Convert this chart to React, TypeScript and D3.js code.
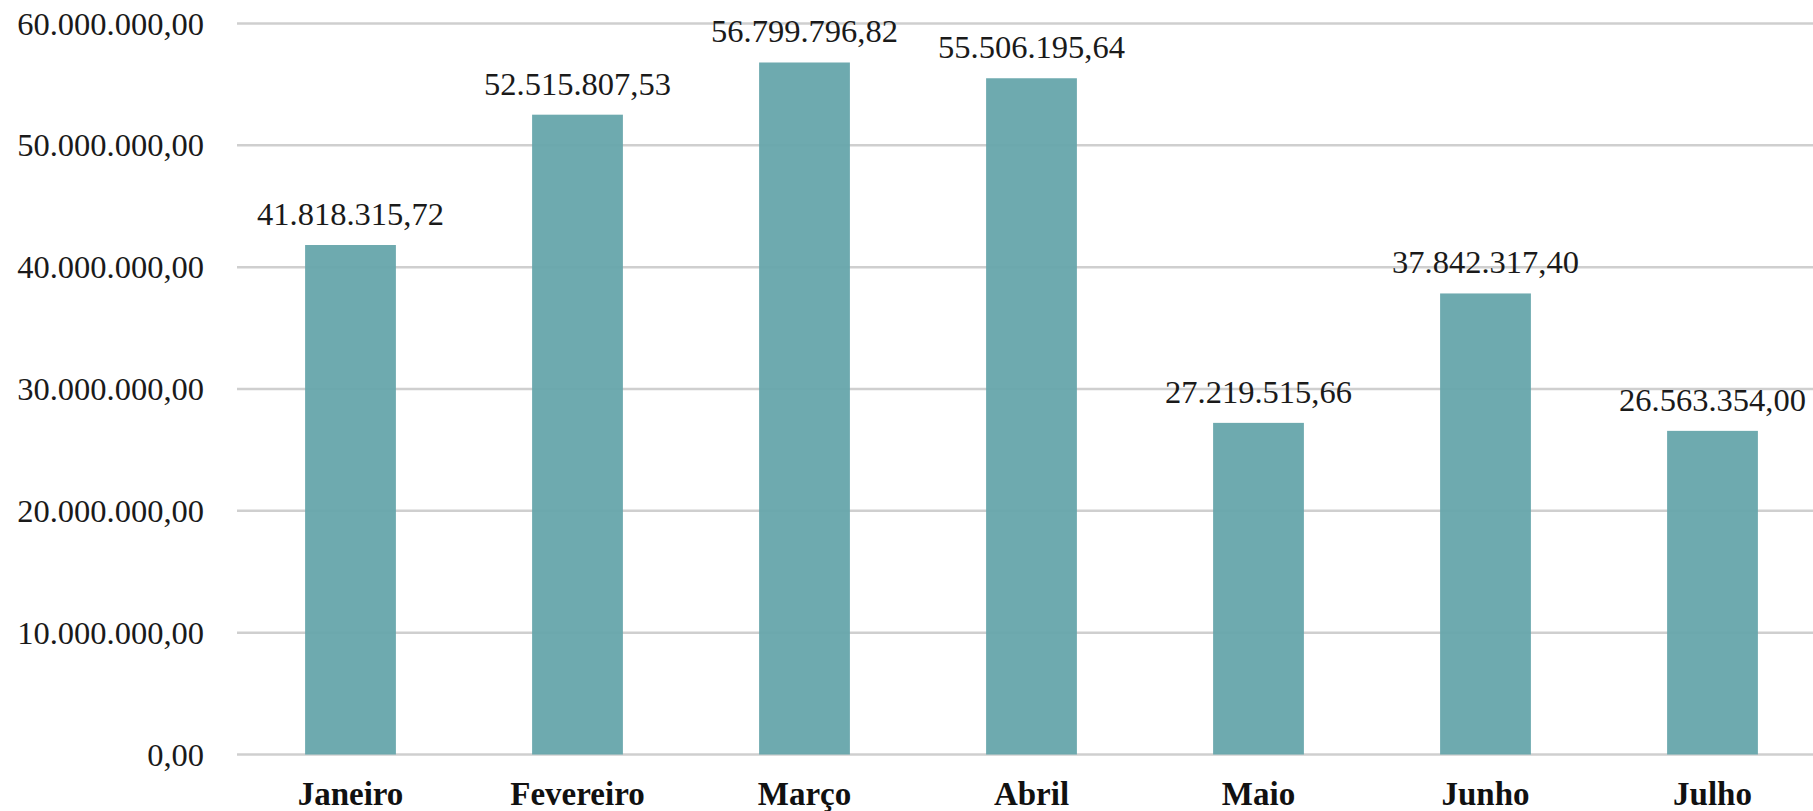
import React, { useEffect, useRef } from 'react'
import * as d3 from 'd3'

const months = ['Janeiro', 'Fevereiro', 'Março', 'Abril', 'Maio', 'Junho', 'Julho']
const totals = [41818315.72, 52515807.53, 56799796.82, 55506195.64, 27219515.66, 37842317.4, 26563354.0]
const yTicks = [0, 10000000, 20000000, 30000000, 40000000, 50000000, 60000000]

const brLocale = d3.formatLocale({
  decimal: ',',
  thousands: '.',
  grouping: [3],
  currency: ['R$', '']
})
const fmt = brLocale.format(',.2f')

export default function App() {
  const svgRef = useRef<SVGSVGElement | null>(null)

  useEffect(() => {
    if (!svgRef.current) return
    const width = 1813
    const height = 811

    const svg = d3.select(svgRef.current)
    svg.selectAll('*').remove()
    svg.attr('width', width).attr('height', height).style('background', '#ffffff')

    const data = months.map((m, i) => ({ month: m, total: totals[i] }))

    // the plot runs a bit past the right edge of the picture, like the original
    const x = d3.scaleBand<string>()
      .domain(months)
      .range([237, 1826])
      .paddingInner(0.6)
      .paddingOuter(0.3)

    const y = d3.scaleLinear()
      .domain([0, 60000000])
      .range([754.5, 23.5])

    const font = '"Liberation Serif", "Times New Roman", serif'

    // gridlines
    svg.append('g')
      .selectAll('line')
      .data(yTicks)
      .enter()
      .append('line')
      .attr('x1', 237)
      .attr('x2', width)
      .attr('y1', d => y(d))
      .attr('y2', d => y(d))
      .attr('stroke', '#cfcfcf')
      .attr('stroke-width', 2.5)

    // y tick labels
    svg.append('g')
      .selectAll('text')
      .data(yTicks)
      .enter()
      .append('text')
      .attr('x', 204)
      .attr('y', d => y(d))
      .attr('dy', '0.34em')
      .attr('text-anchor', 'end')
      .style('font-family', font)
      .style('font-size', '32.5px')
      .attr('fill', '#1a1a1a')
      .text(d => fmt(d))

    // bars
    svg.append('g')
      .selectAll('rect')
      .data(data)
      .enter()
      .append('rect')
      .attr('x', d => x(d.month) as number)
      .attr('y', d => y(d.total))
      .attr('width', x.bandwidth())
      .attr('height', d => y(0) - y(d.total))
      .attr('fill', '#66a5ab')
      .attr('fill-opacity', 0.95)

    // value labels
    svg.append('g')
      .selectAll('text')
      .data(data)
      .enter()
      .append('text')
      .attr('x', d => (x(d.month) as number) + x.bandwidth() / 2)
      .attr('y', d => y(d.total) - 20)
      .attr('text-anchor', 'middle')
      .style('font-family', font)
      .style('font-size', '32.5px')
      .attr('fill', '#1a1a1a')
      .text(d => fmt(d.total))

    // month labels
    svg.append('g')
      .selectAll('text')
      .data(data)
      .enter()
      .append('text')
      .attr('x', d => (x(d.month) as number) + x.bandwidth() / 2)
      .attr('y', 805)
      .attr('text-anchor', 'middle')
      .style('font-family', font)
      .style('font-size', '33px')
      .style('font-weight', 'bold')
      .attr('fill', '#111111')
      .text(d => d.month)
  }, [])

  return (
    <svg ref={svgRef} style={{ position: 'absolute', left: 0, top: 0, display: 'block' }}></svg>
  )
}
